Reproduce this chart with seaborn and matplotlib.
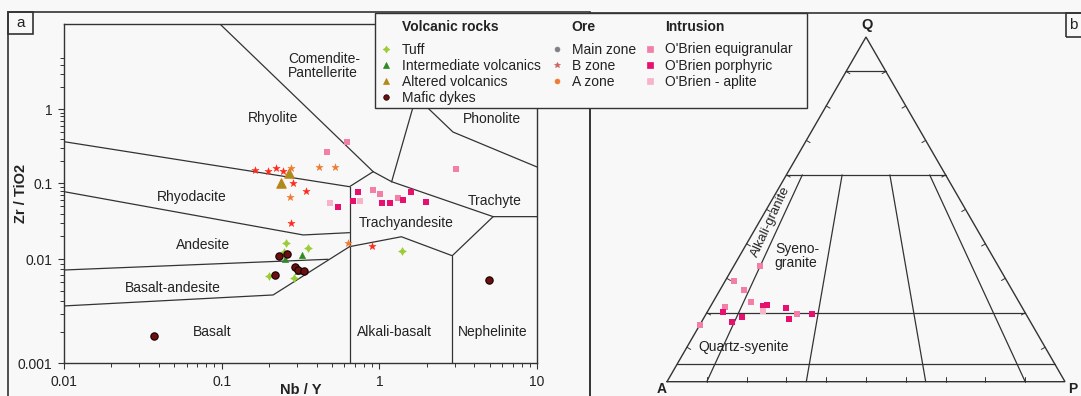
import numpy as np
import matplotlib
matplotlib.use("Agg")
import matplotlib.pyplot as plt
import seaborn as sns
from matplotlib.lines import Line2D
from matplotlib.patches import Rectangle
from matplotlib.ticker import FixedLocator, NullFormatter

# ---------------- panel a data (Nb/Y vs Zr/TiO2) ----------------
tuff_nb_y = [0.255, 0.250, 0.354, 0.200, 0.287, 1.385]
tuff_zr_ti = [0.0163, 0.0126, 0.0140, 0.0069, 0.0066, 0.0129]

intermediate_nb_y = [0.252, 0.322, 0.303]
intermediate_zr_ti = [0.0100, 0.0114, 0.0077]

altered_nb_y = [0.237, 0.266]
altered_zr_ti = [0.100, 0.137]

mafic_nb_y = [0.232, 0.258, 0.292, 0.303, 0.333, 0.218, 0.0372, 4.98]
mafic_zr_ti = [0.0111, 0.0116, 0.0084, 0.0079, 0.0078, 0.0070, 0.00184, 0.0063]

bzone_nb_y = [0.163, 0.196, 0.220, 0.246, 0.282, 0.342, 0.274, 0.894]
bzone_zr_ti = [0.151, 0.148, 0.160, 0.148, 0.102, 0.079, 0.0296, 0.0151]

azone_nb_y = [0.275, 0.416, 0.523, 0.271, 0.635]
azone_zr_ti = [0.163, 0.165, 0.168, 0.0655, 0.0166]

equi_nb_y = [0.620, 0.469, 0.907, 1.009, 1.318, 3.046]
equi_zr_ti = [0.358, 0.267, 0.0816, 0.0717, 0.0635, 0.155]

porph_nb_y = [0.735, 1.579, 0.549, 0.683, 1.034, 1.176, 1.417, 1.966]
porph_zr_ti = [0.0769, 0.0757, 0.0492, 0.0591, 0.0555, 0.0555, 0.0603, 0.0562]

aplite_nb_y = [0.486, 0.753]
aplite_zr_ti = [0.0555, 0.0591]

# field boundaries (Winchester & Floyd), polylines in data units
field_lines = [
    ([0.01, 0.647, 0.914], [0.365, 0.0902, 0.1435]),
    ([0.0975, 0.914], [14.2, 0.1435]),
    ([0.914, 1.197], [0.1435, 0.105]),
    ([1.197, 1.706, 1.946], [0.105, 1.466, 14.2]),
    ([10.0, 2.93, 2.094, 1.706], [0.166, 0.493, 0.978, 1.466]),
    ([1.197, 5.27, 10.0], [0.105, 0.0364, 0.0364]),
    ([5.27, 2.90, 1.38, 0.647], [0.0364, 0.01114, 0.0198, 0.01466]),
    ([0.647, 0.647], [0.0902, 0.001]),
    ([2.90, 2.90], [0.01114, 0.001]),
    ([0.01, 0.329, 0.647], [0.0776, 0.0209, 0.0224]),
    ([0.01, 0.474], [0.00789, 0.0100]),
    ([0.01, 0.212, 0.647], [0.00356, 0.00454, 0.01466]),
]

region_names = ["Comendite-\nPantellerite", "Rhyolite", "Rhyodacite", "Andesite",
                "Basalt-andesite", "Basalt", "Phonolite", "Trachyte",
                "Trachyandesite", "Alkali-basalt", "Nephelinite"]
region_x = [0.2633, 0.2115, 0.0646, 0.0761, 0.0491, 0.0874, 5.18, 5.41, 1.475, 1.256, 5.21]
region_y = [3.79, 0.756, 0.0655, 0.01542, 0.00526, 0.00201, 0.733, 0.0591, 0.0298, 0.00201, 0.00201]

x_ticks = [0.01, 0.1, 1, 10]
x_tick_labels = ["0.01", "0.1", "1", "10"]
y_ticks = [0.001, 0.01, 0.1, 1]
y_tick_labels = ["0.001", "0.01", "0.1", "1"]

# ---------------- panel b data (QAP, %) ----------------
equi_q = [33.6, 29.1, 26.7, 23.1, 21.6, 19.7, 16.5]
equi_a = [59.8, 68.6, 67.2, 67.4, 74.6, 57.4, 83.5]
equi_p = [6.6, 2.3, 6.1, 9.5, 3.8, 22.9, 0.0]

porph_q = [20.1, 17.3, 18.7, 22.0, 22.3, 21.3, 18.3, 19.7]
porph_a = [76.0, 75.0, 71.7, 65.0, 63.6, 59.5, 60.2, 53.7]
porph_p = [4.0, 7.8, 9.6, 13.0, 14.1, 19.2, 21.5, 26.7]

aplite_q = [20.6]
aplite_a = [65.6]
aplite_p = [13.7]

qap_q_levels = [90, 60, 20, 5]
qap_ratio_levels = [10, 35, 65, 90]

# ---------------- styling ----------------
sns.set_theme(style="white")
plt.rcParams["font.family"] = ["Liberation Sans", "DejaVu Sans"]
BG = "#f8f8f8"
INK = "#222222"
LINE = "#333333"

C_TUFF = "#9acd32"
C_INTER = "#2e8b22"
C_ALT = "#9c9420"
C_MAFIC = "#6b0f0f"
C_MAIN = "#808080"
C_B = "#ff2a1a"
C_A = "#f07a30"
C_EQUI = "#f17fa8"
C_PORPH = "#e8106e"
C_APL = "#f6b4c8"

W, H = 1081, 396
fig = plt.figure(figsize=(W / 100, H / 100), dpi=100, facecolor=BG)


def fbox(x0, y0, x1, y1):
    return [x0 / W, 1 - y1 / H, (x1 - x0) / W, (y1 - y0) / H]


def fpt(x, y):
    return x / W, 1 - y / H


# ---------- panel a ----------
ax = fig.add_axes(fbox(64, 24, 537, 363.3))
ax.set_facecolor(BG)

LOG_ANCH = np.array([-6.0, -3.0, -2.0, -1.0, 0.0, 3.0])
POS_ANCH = np.array([-312.0, 0.0, 104.0, 180.0, 254.0, 476.0])


def yfwd(y):
    y = np.asarray(y, dtype=float)
    return np.interp(np.log10(np.clip(y, 1e-300, None)), LOG_ANCH, POS_ANCH)


def yinv(v):
    return 10 ** np.interp(np.asarray(v, dtype=float), POS_ANCH, LOG_ANCH)


ax.set_xscale("log")
ax.set_yscale("function", functions=(yfwd, yinv))
ax.set_xlim(0.01, 10)
ax.set_ylim(0.001, 14.2)

for xs, ys in field_lines:
    ax.plot(xs, ys, color=LINE, lw=0.9, zorder=2, solid_joinstyle="miter")

for name, x, y in zip(region_names, region_x, region_y):
    ha = "left" if name.startswith("Comendite") else "center"
    ax.text(x, y, name, ha=ha, va="center", fontsize=10, color=INK,
            linespacing=1.0, zorder=3)

sc = dict(ax=ax, legend=False, zorder=4)
sns.scatterplot(x=tuff_nb_y, y=tuff_zr_ti, marker=(4, 1, 0), s=30, color=C_TUFF,
                edgecolor=C_TUFF, linewidth=0.5, **sc)
sns.scatterplot(x=intermediate_nb_y, y=intermediate_zr_ti, marker="^", s=22,
                color=C_INTER, edgecolor=C_INTER, linewidth=0.3, **sc)
sns.scatterplot(x=altered_nb_y, y=altered_zr_ti, marker="^", s=45, color=C_ALT,
                edgecolor="#d07a10", linewidth=0.8, **sc)
sns.scatterplot(x=bzone_nb_y, y=bzone_zr_ti, marker="*", s=30, color=C_B,
                edgecolor=C_B, linewidth=0.3, **sc)
sns.scatterplot(x=azone_nb_y, y=azone_zr_ti, marker="*", s=30, color=C_A,
                edgecolor=C_A, linewidth=0.3, **sc)
sns.scatterplot(x=equi_nb_y, y=equi_zr_ti, marker="s", s=24, color=C_EQUI,
                edgecolor=C_EQUI, linewidth=0, **sc)
sns.scatterplot(x=porph_nb_y, y=porph_zr_ti, marker="s", s=24, color=C_PORPH,
                edgecolor=C_PORPH, linewidth=0, **sc)
sns.scatterplot(x=aplite_nb_y, y=aplite_zr_ti, marker="s", s=24, color=C_APL,
                edgecolor=C_APL, linewidth=0, **sc)
sns.scatterplot(x=mafic_nb_y, y=mafic_zr_ti, marker="o", s=28, color=C_MAFIC,
                edgecolor="#150000", linewidth=0.8, **sc)

ax.xaxis.set_major_locator(FixedLocator(x_ticks))
ax.set_xticklabels(x_tick_labels)
xminor = [k * 10.0 ** d for d in (-2, -1, 0) for k in range(2, 10)]
ax.xaxis.set_minor_locator(FixedLocator(xminor))
ax.xaxis.set_minor_formatter(NullFormatter())
ax.yaxis.set_major_locator(FixedLocator(y_ticks))
ax.set_yticklabels(y_tick_labels)
yminor = [k * 10.0 ** d for d in (-3, -2, -1) for k in range(2, 10)] + [2, 3, 4, 5]
ax.yaxis.set_minor_locator(FixedLocator(yminor))
ax.yaxis.set_minor_formatter(NullFormatter())
ax.tick_params(which="major", direction="out", length=4.5, width=0.8, color=LINE,
               labelsize=10, labelcolor=INK, pad=4, left=True, bottom=True)
ax.tick_params(which="minor", direction="out", length=2.6, width=0.7, color=LINE,
               left=True, bottom=True)
for s in ax.spines.values():
    s.set_color(LINE)
    s.set_linewidth(1.0)
    s.set_visible(True)
ax.grid(False)

ax.set_xlabel("Nb / Y", fontsize=10.5, fontweight="bold", color=INK, va="center")
ax.xaxis.set_label_coords(0.5, (363.3 - 390) / 339.3)
ax.set_ylabel("Zr / TiO2", fontsize=10.5, fontweight="bold", color=INK, va="center")
ax.yaxis.set_label_coords((20.7 - 64) / 473, 0.5)

# ---------- panel b (ternary QAP) ----------
axb = fig.add_axes(fbox(590, 13, 1081, 396))
axb.set_facecolor("none")
axb.axis("off")
axb.set_xlim(-77 / 398, -77 / 398 + 491 / 398)
axb.set_ylim(-14.3 / 398, -14.3 / 398 + 383 / 398)

R3 = np.sqrt(3) / 2


def qap_xy(q, a, p):
    q = np.asarray(q, dtype=float)
    a = np.asarray(a, dtype=float)
    p = np.asarray(p, dtype=float)
    t = q + a + p
    return p / t + 0.5 * q / t, R3 * q / t


tx, ty = qap_xy([0, 0, 100, 0], [100, 0, 0, 100], [0, 100, 0, 0])
axb.plot(tx, ty, color=LINE, lw=1.0, solid_joinstyle="miter")
for ql in qap_q_levels:
    lx, ly = qap_xy([ql, ql], [100 - ql, 0], [0, 100 - ql])
    axb.plot(lx, ly, color=LINE, lw=0.9)
for r in qap_ratio_levels:
    lx, ly = qap_xy([60, 0], [40 * (100 - r) / 100, 100 - r], [40 * r / 100, r])
    axb.plot(lx, ly, color=LINE, lw=0.9)

# small inward ticks every 10 %
tick_len = 0.011
for k in range(1, 10):
    f = k / 10
    axb.plot([f, f], [0, tick_len], color=LINE, lw=0.7)
    bx, by = 0.5 * f, R3 * f
    axb.plot([bx, bx + tick_len * R3], [by, by - tick_len * 0.5], color=LINE, lw=0.7)
    cx, cy = 1 - 0.5 * f, R3 * f
    axb.plot([cx, cx - tick_len * R3], [cy, cy - tick_len * 0.5], color=LINE, lw=0.7)

scb = dict(ax=axb, legend=False, zorder=4, marker="s", s=24, linewidth=0)
ex, ey = qap_xy(equi_q, equi_a, equi_p)
sns.scatterplot(x=ex, y=ey, color=C_EQUI, **scb)
px_, py_ = qap_xy(porph_q, porph_a, porph_p)
sns.scatterplot(x=px_, y=py_, color=C_PORPH, **scb)
ax_, ay_ = qap_xy(aplite_q, aplite_a, aplite_p)
sns.scatterplot(x=ax_, y=ay_, color=C_APL, **scb)

axb.text(0.5017, 0.896, "Q", ha="center", va="center", fontsize=10.5,
         fontweight="bold", color=INK)
axb.text(-0.0133, -0.019, "A", ha="center", va="center", fontsize=10,
         fontweight="bold", color=INK)
axb.text(1.02, -0.019, "P", ha="center", va="center", fontsize=10,
         fontweight="bold", color=INK)
axb.text(0.271, 0.3158, "Syeno-\ngranite", ha="left", va="center", fontsize=10,
         color=INK, linespacing=1.0)
axb.text(0.1935, 0.0879, "Quartz-syenite", ha="center", va="center", fontsize=10,
         color=INK)
axb.text(0.2613, 0.4013, "Alkali-granite", ha="center", va="center", fontsize=9.5,
         color=INK, rotation=65, rotation_mode="anchor")

# ---------- frames and panel tags ----------
fr = dict(transform=fig.transFigure, fill=False, edgecolor=LINE, lw=1.2, zorder=6)
fig.patches.append(Rectangle((8 / W, -0.1), 582 / W, 1 - 12 / H + 0.1, **fr))
fig.patches.append(Rectangle((590 / W, -0.1), 0.5, 1 - 13 / H + 0.1, **fr))
fig.patches.append(Rectangle(fpt(8, 34), 25 / W, 22 / H, **fr))
fig.text(*fpt(20.5, 23), "a", ha="center", va="center", fontsize=11, color=INK)
fig.patches.append(Rectangle(fpt(1066, 37), 30 / W, 24 / H, **fr))
fig.text(*fpt(1069, 25), "b", ha="left", va="center", fontsize=11, color=INK)

# ---------- legend ----------
fig.patches.append(Rectangle(fpt(375, 108), (807 - 375) / W, (108 - 13) / H,
                             transform=fig.transFigure, facecolor=BG,
                             edgecolor=LINE, lw=1.0, zorder=7))

col_headers = ["Volcanic rocks", "Ore", "Intrusion"]
col_text_x = [401.7, 571.7, 665]
col_marker_x = [386, 557, 650]
for hdr, tx_ in zip(col_headers, col_text_x):
    fig.text(*fpt(tx_, 26.7), hdr, ha="left", va="center", fontsize=10,
             fontweight="bold", color=INK, zorder=9)


def mk(marker, color, ms, mec=None):
    return Line2D([], [], linestyle="none", marker=marker, color=color, markersize=ms,
                  markeredgecolor=mec or color, markeredgewidth=0.5)


legend_cols = [
    ([mk((4, 1, 0), C_TUFF, 5), mk("^", C_INTER, 4), mk("^", C_ALT, 5, "#d07a10"),
      mk("o", C_MAFIC, 4, "#150000")],
     ["Tuff", "Intermediate volcanics", "Altered volcanics", "Mafic dykes"]),
    ([mk("o", C_MAIN, 3.5), mk("*", "#d06060", 4), mk("o", C_A, 3.5)],
     ["Main zone", "B zone", "A zone"]),
    ([mk("s", C_EQUI, 4), mk("s", C_PORPH, 4), mk("s", C_APL, 4)],
     ["O'Brien equigranular", "O'Brien porphyric", "O'Brien - aplite"]),
]
FS_PX = 10 * 100 / 72
HL = 1.0
for (handles, labels), mx, tx_ in zip(legend_cols, col_marker_x, col_text_x):
    left = mx - HL * FS_PX / 2
    leg = fig.legend(handles, labels, loc="upper left",
                     bbox_to_anchor=fpt(left, 42.5), bbox_transform=fig.transFigure,
                     frameon=False, fontsize=10, handlelength=HL,
                     handletextpad=(tx_ - mx - HL * FS_PX / 2) / FS_PX,
                     borderpad=0, borderaxespad=0, labelspacing=0.15,
                     labelcolor=INK)
    leg.set_zorder(9)

fig.savefig("out.png", dpi=100, facecolor=fig.get_facecolor())
